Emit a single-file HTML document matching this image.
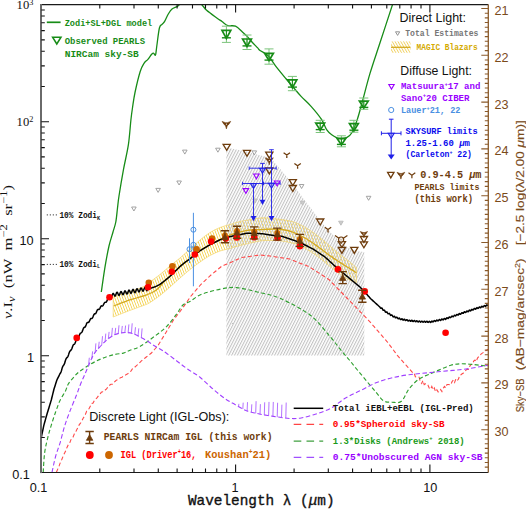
<!DOCTYPE html>
<html><head><meta charset="utf-8"><style>
html,body{margin:0;padding:0;background:#fff;}
svg{display:block;}
</style></head><body>
<svg width="526" height="509" viewBox="0 0 526 509">
<defs>
<clipPath id="frame"><rect x="41.30" y="4.60" width="447.00" height="467.90"/></clipPath>
<pattern id="ghatch" patternUnits="userSpaceOnUse" width="2.55" height="10" patternTransform="rotate(27)"><rect x="0" y="0" width="1.05" height="10" fill="#c2c2c2"/></pattern>
<pattern id="yhatch" patternUnits="userSpaceOnUse" width="2.45" height="10" patternTransform="rotate(-21)"><rect x="0" y="0" width="0.85" height="10" fill="#f4d24e"/></pattern>
<pattern id="yhatch2" patternUnits="userSpaceOnUse" width="2.45" height="10" patternTransform="rotate(-30)"><rect x="0" y="0" width="0.9" height="10" fill="#f0d060"/></pattern>
</defs>
<rect width="526" height="509" fill="#fff"/>
<path d="M113.20,297.00 C115.50,296.22 123.12,293.57 127.00,292.30 C130.88,291.03 133.33,290.53 136.50,289.40 C139.67,288.27 143.75,286.73 146.00,285.50 C148.25,284.27 147.67,283.83 150.00,282.00 C152.33,280.17 156.67,277.17 160.00,274.50 C163.33,271.83 166.67,268.75 170.00,266.00 C173.33,263.25 176.67,260.83 180.00,258.00 C183.33,255.17 186.67,252.00 190.00,249.00 C193.33,246.00 196.67,242.75 200.00,240.00 C203.33,237.25 206.67,234.58 210.00,232.50 C213.33,230.42 216.67,228.83 220.00,227.50 C223.33,226.17 226.67,225.50 230.00,224.50 C233.33,223.50 235.83,222.45 240.00,221.50 C244.17,220.55 250.83,219.42 255.00,218.80 C259.17,218.18 260.53,217.67 265.00,217.80 C269.47,217.93 277.03,218.90 281.80,219.60 C286.57,220.30 289.67,220.68 293.60,222.00 C297.53,223.32 301.47,225.27 305.40,227.50 C309.33,229.73 313.28,232.45 317.20,235.40 C321.12,238.35 324.98,241.93 328.90,245.20 C332.82,248.47 337.42,252.38 340.70,255.00 C343.98,257.62 345.98,258.77 348.60,260.90 C351.22,263.03 355.10,266.65 356.40,267.80 L356.40,282.50 C355.10,282.02 351.22,280.90 348.60,279.60 C345.98,278.30 343.98,277.05 340.70,274.70 C337.42,272.35 332.82,268.62 328.90,265.50 C324.98,262.38 321.12,258.83 317.20,256.00 C313.28,253.17 308.27,250.33 305.40,248.50 C302.53,246.67 301.97,245.83 300.00,245.00 C298.03,244.17 296.63,244.17 293.60,243.50 C290.57,242.83 286.57,241.50 281.80,241.00 C277.03,240.50 269.47,240.33 265.00,240.50 C260.53,240.67 259.17,241.17 255.00,242.00 C250.83,242.83 244.17,244.42 240.00,245.50 C235.83,246.58 233.33,247.58 230.00,248.50 C226.67,249.42 223.33,249.83 220.00,251.00 C216.67,252.17 213.33,253.67 210.00,255.50 C206.67,257.33 203.33,259.67 200.00,262.00 C196.67,264.33 193.33,266.83 190.00,269.50 C186.67,272.17 183.33,275.08 180.00,278.00 C176.67,280.92 173.33,284.08 170.00,287.00 C166.67,289.92 163.33,292.92 160.00,295.50 C156.67,298.08 152.33,301.00 150.00,302.50 C147.67,304.00 148.25,303.58 146.00,304.50 C143.75,305.42 139.67,306.83 136.50,308.00 C133.33,309.17 130.88,310.00 127.00,311.50 C123.12,313.00 115.50,316.08 113.20,317.00 Z" fill="url(#yhatch)" stroke="none"/>
<path d="M226.40,147.50 L246.00,151.50 L256.70,154.50 L265.00,156.50 L272.10,159.50 L276.80,165.00 L282.70,172.10 L288.60,179.20 L294.50,186.30 L300.40,194.50 L306.30,202.50 L310.00,207.00 L317.00,216.50 L324.20,225.50 L331.20,233.00 L338.30,240.00 L345.40,246.00 L354.80,251.00 L364.30,252.00 L364.3,355.5 L226.4,355.5 Z" fill="url(#ghatch)" stroke="none"/>
<path d="M113.20,297.00 C115.50,296.22 123.12,293.57 127.00,292.30 C130.88,291.03 133.33,290.53 136.50,289.40 C139.67,288.27 143.75,286.73 146.00,285.50 C148.25,284.27 147.67,283.83 150.00,282.00 C152.33,280.17 156.67,277.17 160.00,274.50 C163.33,271.83 166.67,268.75 170.00,266.00 C173.33,263.25 176.67,260.83 180.00,258.00 C183.33,255.17 186.67,252.00 190.00,249.00 C193.33,246.00 196.67,242.75 200.00,240.00 C203.33,237.25 206.67,234.58 210.00,232.50 C213.33,230.42 216.67,228.83 220.00,227.50 C223.33,226.17 226.67,225.50 230.00,224.50 C233.33,223.50 235.83,222.45 240.00,221.50 C244.17,220.55 250.83,219.42 255.00,218.80 C259.17,218.18 260.53,217.67 265.00,217.80 C269.47,217.93 277.03,218.90 281.80,219.60 C286.57,220.30 289.67,220.68 293.60,222.00 C297.53,223.32 301.47,225.27 305.40,227.50 C309.33,229.73 313.28,232.45 317.20,235.40 C321.12,238.35 324.98,241.93 328.90,245.20 C332.82,248.47 337.42,252.38 340.70,255.00 C343.98,257.62 345.98,258.77 348.60,260.90 C351.22,263.03 355.10,266.65 356.40,267.80 L356.40,282.50 C355.10,282.02 351.22,280.90 348.60,279.60 C345.98,278.30 343.98,277.05 340.70,274.70 C337.42,272.35 332.82,268.62 328.90,265.50 C324.98,262.38 321.12,258.83 317.20,256.00 C313.28,253.17 308.27,250.33 305.40,248.50 C302.53,246.67 301.97,245.83 300.00,245.00 C298.03,244.17 296.63,244.17 293.60,243.50 C290.57,242.83 286.57,241.50 281.80,241.00 C277.03,240.50 269.47,240.33 265.00,240.50 C260.53,240.67 259.17,241.17 255.00,242.00 C250.83,242.83 244.17,244.42 240.00,245.50 C235.83,246.58 233.33,247.58 230.00,248.50 C226.67,249.42 223.33,249.83 220.00,251.00 C216.67,252.17 213.33,253.67 210.00,255.50 C206.67,257.33 203.33,259.67 200.00,262.00 C196.67,264.33 193.33,266.83 190.00,269.50 C186.67,272.17 183.33,275.08 180.00,278.00 C176.67,280.92 173.33,284.08 170.00,287.00 C166.67,289.92 163.33,292.92 160.00,295.50 C156.67,298.08 152.33,301.00 150.00,302.50 C147.67,304.00 148.25,303.58 146.00,304.50 C143.75,305.42 139.67,306.83 136.50,308.00 C133.33,309.17 130.88,310.00 127.00,311.50 C123.12,313.00 115.50,316.08 113.20,317.00 Z" fill="none" stroke="#f3d56a" stroke-width="0.7"/>
<path d="M113.50,306.00 C115.75,305.13 123.17,302.13 127.00,300.80 C130.83,299.47 133.33,298.95 136.50,298.00 C139.67,297.05 143.30,296.05 146.00,295.10 C148.70,294.15 150.70,293.40 152.70,292.30 C154.70,291.20 155.95,290.47 158.00,288.50 C160.05,286.53 163.00,282.53 165.00,280.50 C167.00,278.47 167.50,278.63 170.00,276.30 C172.50,273.97 176.67,269.42 180.00,266.50 C183.33,263.58 186.67,261.43 190.00,258.80 C193.33,256.17 196.67,253.05 200.00,250.70 C203.33,248.35 206.73,246.57 210.00,244.70 C213.27,242.83 216.27,241.12 219.60,239.50 C222.93,237.88 226.60,236.25 230.00,235.00 C233.40,233.75 236.67,232.83 240.00,232.00 C243.33,231.17 245.83,230.45 250.00,230.00 C254.17,229.55 259.70,229.38 265.00,229.30 C270.30,229.22 277.03,228.98 281.80,229.50 C286.57,230.02 289.67,230.93 293.60,232.40 C297.53,233.87 301.47,236.00 305.40,238.30 C309.33,240.60 313.28,243.42 317.20,246.20 C321.12,248.98 324.98,252.22 328.90,255.00 C332.82,257.78 337.42,260.77 340.70,262.90 C343.98,265.03 345.98,266.17 348.60,267.80 C351.22,269.43 355.10,271.88 356.40,272.70" fill="none" stroke="#d4aa20" stroke-width="1.3"/>
<g clip-path="url(#frame)">
<path d="M56.40,472.30 L57.75,469.10 L59.10,465.90 L60.45,462.28 L61.80,459.57 L63.15,456.09 L64.50,453.27 L65.73,450.83 L66.97,447.47 L68.20,444.92 L69.43,443.77 L70.67,440.38 L71.90,437.87 L73.13,436.89 L74.37,433.85 L75.60,432.24 L76.83,429.46 L78.07,427.52 L79.30,424.54 L80.53,423.10 L81.77,421.26 L83.00,418.49 L84.23,416.62 L85.47,414.29 L86.70,411.10 L87.98,410.33 L89.27,408.18 L90.55,405.83 L91.83,403.52 L93.12,402.97 L94.40,400.46 L95.78,399.13 L97.15,397.66 L98.53,395.67 L99.90,394.27 L101.28,392.33 L102.66,391.88 L104.04,390.21 L105.42,389.90 L106.80,388.71 L108.17,386.32 L109.53,385.25 L110.90,384.25 L112.27,384.31 L113.63,382.33 L115.00,381.50 L116.38,380.14 L117.76,379.63 L119.14,378.60 L120.52,377.70 L121.90,377.24 L123.25,376.32 L124.60,375.91 L125.95,374.64 L127.30,374.12 L128.65,373.09 L130.00,372.39 L131.43,370.37 L132.85,368.06 L134.27,367.68 L135.70,366.34 L137.06,365.13 L138.42,363.47 L139.78,362.58 L141.14,361.12 L142.50,360.00 L143.77,359.00 L145.04,358.00 L146.31,357.00 L147.59,356.00 L148.86,355.00 L150.13,354.00 L151.40,353.00 L152.72,351.50 L154.04,350.00 L155.36,348.50 L156.68,347.00 L158.00,345.50 L159.20,343.54 L160.40,341.58 L161.60,339.62 L162.80,337.66 L164.00,335.70 L165.36,333.46 L166.71,331.21 L168.07,328.97 L169.43,326.73 L170.79,324.49 L172.14,322.24 L173.50,320.00 L174.71,318.41 L175.93,316.82 L177.14,315.24 L178.35,313.65 L179.56,312.06 L180.77,310.48 L181.99,308.89 L183.20,307.30 L184.50,305.42 L185.80,303.53 L187.10,301.65 L188.40,299.77 L189.70,297.88 L191.00,296.00 L192.25,294.54 L193.50,293.07 L194.75,291.61 L196.00,290.15 L197.25,288.69 L198.50,287.23 L199.75,285.76 L201.00,284.30 L202.25,283.14 L203.50,281.98 L204.75,280.81 L206.00,279.65 L207.25,278.49 L208.50,277.32 L209.75,276.16 L211.00,275.00 L212.31,273.93 L213.62,272.85 L214.94,271.77 L216.25,270.70 L217.56,269.62 L218.88,268.55 L220.19,267.47 L221.50,266.40 L222.71,265.88 L223.91,265.35 L225.12,264.83 L226.32,264.31 L227.53,263.78 L228.74,263.26 L229.94,262.74 L231.15,262.21 L232.35,261.69 L233.56,261.16 L234.76,260.64 L235.97,260.12 L237.18,259.59 L238.38,259.07 L239.59,258.55 L240.79,258.02 L242.00,257.50 L243.27,257.32 L244.54,257.14 L245.81,256.96 L247.09,256.79 L248.36,256.61 L249.63,256.43 L250.90,256.25 L252.17,256.07 L253.44,255.89 L254.71,255.71 L255.99,255.54 L257.26,255.36 L258.53,255.18 L259.80,255.00 L261.07,255.12 L262.35,255.25 L263.62,255.38 L264.90,255.50 L266.18,255.62 L267.45,255.75 L268.73,255.88 L270.00,256.00 L271.23,256.19 L272.45,256.38 L273.68,256.56 L274.90,256.75 L276.12,256.94 L277.35,257.12 L278.57,257.31 L279.80,257.50 L281.03,257.69 L282.25,257.88 L283.48,258.06 L284.70,258.25 L285.93,258.44 L287.15,258.62 L288.38,258.81 L289.60,259.00 L290.83,259.49 L292.06,259.98 L293.29,260.46 L294.53,260.95 L295.76,261.44 L296.99,261.93 L298.22,262.41 L299.45,262.90 L300.68,263.39 L301.91,263.88 L303.14,264.36 L304.38,264.85 L305.61,265.34 L306.84,265.82 L308.07,266.31 L309.30,266.80 L310.53,267.59 L311.75,268.39 L312.98,269.18 L314.20,269.98 L315.43,270.77 L316.65,271.56 L317.88,272.36 L319.10,273.15 L320.32,273.94 L321.55,274.74 L322.77,275.53 L324.00,276.32 L325.22,277.12 L326.45,277.91 L327.67,278.71 L328.90,279.50 L330.12,280.75 L331.34,282.00 L332.56,283.25 L333.77,284.50 L334.99,285.75 L336.21,287.00 L337.43,288.25 L338.65,289.50 L339.87,290.75 L341.09,292.00 L342.31,293.25 L343.52,294.50 L344.74,295.75 L345.96,297.00 L347.18,298.25 L348.40,299.50 L349.64,300.78 L350.88,302.06 L352.12,303.35 L353.36,304.63 L354.61,305.91 L355.85,307.19 L357.09,308.48 L358.33,309.76 L359.57,311.04 L360.81,312.32 L362.05,313.61 L363.29,314.89 L364.54,316.17 L365.78,317.45 L367.02,318.74 L368.26,320.02 L369.50,321.30 L370.72,322.71 L371.94,324.13 L373.16,325.54 L374.38,326.95 L375.60,328.37 L376.82,329.78 L378.04,331.19 L379.26,332.61 L380.48,334.02 L381.70,335.43 L382.92,336.85 L384.14,338.26 L385.36,339.67 L386.58,341.09 L387.80,342.50 L389.03,344.15 L390.25,345.80 L391.48,347.45 L392.70,349.10 L393.93,350.75 L395.15,352.40 L396.38,354.05 L397.60,355.70 L398.87,357.12 L400.13,358.53 L401.40,359.95 L402.67,361.37 L403.93,362.78 L405.20,364.20 L406.47,365.63 L407.73,367.07 L409.00,368.50 L410.27,369.93 L411.53,371.37 L412.80,372.80 L414.07,372.80 L415.33,376.79 L416.60,376.92 L417.87,376.92 L419.13,377.21 L420.40,381.96 L421.67,383.51 L422.93,380.49 L424.20,384.57 L425.47,383.81 L426.73,383.61 L428.00,385.19 L429.27,388.07 L430.53,389.31 L431.80,386.44 L433.07,389.74 L434.33,388.01 L435.60,391.76 L436.87,389.76 L438.13,391.88 L439.40,392.01 L440.67,389.62 L441.93,391.49 L443.20,388.16 L444.47,386.34 L445.73,387.84 L447.00,384.54 L448.27,384.47 L449.53,384.59 L450.80,384.69 L452.07,381.57 L453.33,379.95 L454.60,382.47 L455.87,378.91 L457.13,380.63 L458.40,379.25 L459.67,375.70 L460.93,374.79 L462.20,373.79 L463.47,373.07 L464.73,371.59 L466.00,370.16 L467.28,369.16 L468.57,369.31 L469.85,366.13 L471.13,364.53 L472.42,364.54 L473.70,361.15 L474.97,360.01 L476.23,361.57 L477.50,358.14 L478.77,356.63 L480.03,355.22 L481.30,353.80 L482.73,352.85 L484.15,351.90 L485.57,350.95 L487.00,350.00 L488.33,349.17 L489.67,348.33 L491.00,347.50" fill="none" stroke="#ff4a4a" stroke-width="1.1" stroke-dasharray="4,2.5"/>
<path d="M43.20,472.30 C43.43,469.10 43.87,458.77 44.60,453.10 C45.33,447.43 46.48,442.97 47.60,438.30 C48.72,433.63 49.95,429.52 51.30,425.10 C52.65,420.68 54.25,415.90 55.70,411.80 C57.15,407.70 58.37,403.98 60.00,400.50 C61.63,397.02 64.12,393.65 65.50,390.90 C66.88,388.15 66.92,386.30 68.30,384.00 C69.68,381.70 71.97,379.17 73.80,377.10 C75.63,375.03 77.02,373.43 79.30,371.60 C81.58,369.77 84.75,367.82 87.50,366.10 C90.25,364.38 92.82,362.78 95.80,361.30 C98.78,359.82 102.20,358.35 105.40,357.20 C108.60,356.05 112.02,355.08 115.00,354.40 C117.98,353.72 120.80,353.78 123.30,353.10 C125.80,352.42 127.23,351.38 130.00,350.30 C132.77,349.22 136.03,348.77 139.90,346.60 C143.77,344.43 148.77,340.63 153.20,337.30 C157.63,333.97 162.52,330.60 166.50,326.60 C170.48,322.60 174.32,316.95 177.10,313.30 C179.88,309.65 180.98,306.70 183.20,304.70 C185.42,302.70 187.43,303.00 190.40,301.30 C193.37,299.60 195.82,296.57 201.00,294.50 C206.18,292.43 215.53,290.05 221.50,288.90 C227.47,287.75 230.83,287.08 236.80,287.60 C242.77,288.12 250.10,290.22 257.30,292.00 C264.50,293.78 271.22,294.47 280.00,298.30 C288.78,302.13 301.67,308.63 310.00,315.00 C318.33,321.37 324.63,330.38 330.00,336.50 C335.37,342.62 338.97,347.78 342.20,351.70 C345.43,355.62 346.93,357.03 349.40,360.00 C351.87,362.97 354.15,366.02 357.00,369.50 C359.85,372.98 363.33,377.10 366.50,380.90 C369.67,384.70 373.13,388.97 376.00,392.30 C378.87,395.63 381.05,399.25 383.70,400.90 C386.35,402.55 388.95,402.13 391.90,402.20 C394.85,402.27 398.55,403.52 401.40,401.30 C404.25,399.08 406.15,392.55 409.00,388.90 C411.85,385.25 415.33,381.77 418.50,379.40 C421.67,377.03 424.52,376.28 428.00,374.70 C431.48,373.12 435.60,371.48 439.40,369.90 C443.20,368.32 447.32,366.22 450.80,365.20 C454.28,364.18 457.13,363.97 460.30,363.80 C463.47,363.63 466.62,363.97 469.80,364.20 C472.98,364.43 475.87,364.82 479.40,365.20 C482.93,365.58 489.07,366.28 491.00,366.50" fill="none" stroke="#30a030" stroke-width="1.15" stroke-dasharray="4,2.5"/>
<path d="M52.00,472.30 C52.62,469.58 54.35,460.92 55.70,456.00 C57.05,451.08 58.63,447.72 60.10,442.80 C61.57,437.88 62.90,431.67 64.50,426.50 C66.10,421.33 67.70,417.05 69.70,411.80 C71.70,406.55 74.68,399.63 76.50,395.00 C78.32,390.37 79.22,387.43 80.60,384.00 C81.98,380.57 83.42,377.60 84.80,374.40 C86.18,371.20 87.37,368.20 88.90,364.80 C90.43,361.40 92.03,357.13 94.00,354.00 C95.97,350.87 98.48,348.42 100.70,346.00 C102.92,343.58 105.08,341.33 107.30,339.50 C109.52,337.67 111.78,336.08 114.00,335.00 C116.22,333.92 118.60,333.42 120.60,333.00 C122.60,332.58 124.00,332.42 126.00,332.50 C128.00,332.58 130.38,332.83 132.60,333.50 C134.82,334.17 136.85,335.25 139.30,336.50 C141.75,337.75 144.87,339.50 147.30,341.00 C149.73,342.50 151.78,344.17 153.90,345.50 C156.02,346.83 157.90,347.72 160.00,349.00 C162.10,350.28 163.65,351.17 166.50,353.20 C169.35,355.23 173.55,358.53 177.10,361.20 C180.65,363.87 183.98,366.52 187.80,369.20 C191.62,371.88 195.75,373.95 200.00,377.30 C204.25,380.65 209.13,385.75 213.30,389.30 C217.47,392.85 221.38,396.07 225.00,398.60 C228.62,401.13 231.43,402.48 235.00,404.50 C238.57,406.52 242.73,409.20 246.40,410.70 C250.07,412.20 253.43,412.70 257.00,413.50 C260.57,414.30 263.97,414.87 267.80,415.50 C271.63,416.13 276.30,416.80 280.00,417.30 C283.70,417.80 286.48,418.38 290.00,418.50 C293.52,418.62 296.90,418.72 301.10,418.00 C305.30,417.28 310.32,415.78 315.20,414.20 C320.08,412.62 325.33,411.20 330.40,408.50 C335.47,405.80 340.53,401.02 345.60,398.00 C350.67,394.98 355.73,392.93 360.80,390.40 C365.87,387.87 370.92,384.87 376.00,382.80 C381.08,380.73 385.80,379.35 391.30,378.00 C396.80,376.65 402.88,375.57 409.00,374.70 C415.12,373.83 421.67,373.43 428.00,372.80 C434.33,372.17 440.67,371.53 447.00,370.90 C453.33,370.27 458.67,370.02 466.00,369.00 C473.33,367.98 486.83,365.50 491.00,364.80" fill="none" stroke="#a040ff" stroke-width="1.1" stroke-dasharray="4.5,2.5"/>
<path d="M88.50,366.04 l0.8,-8.30 M91.80,358.96 l0.8,-7.60 M95.10,352.99 l0.8,-9.60 M98.40,349.05 l0.8,-7.29 M101.70,345.32 l0.8,-9.14 M105.00,342.07 l0.8,-8.46 M108.30,339.13 l0.8,-7.23 M111.60,336.91 l0.8,-9.03 M114.90,335.03 l0.8,-7.15 M118.20,334.03 l0.8,-8.73 M121.50,333.22 l0.8,-7.28 M124.80,332.91 l0.8,-7.36 M128.10,333.12 l0.8,-8.70 M131.40,333.62 l0.8,-10.31 M134.70,334.74 l0.8,-7.50 M138.00,336.22 l0.8,-7.89 M141.30,337.93 l0.8,-9.51 M238.50,406.70 L238.90,403.83 M242.80,409.04 L243.20,402.66 M247.10,411.18 L247.50,402.16 M251.40,412.32 L251.80,404.32 M255.70,413.46 L256.10,401.19 M260.00,414.36 L260.40,404.16 M264.30,415.15 L264.70,402.30 M268.60,415.92 L269.00,401.92 M272.90,416.55 L273.30,401.96 M277.20,417.19 L277.60,402.76 M281.50,417.78 L281.90,404.66 M285.80,418.30 L286.20,402.57" fill="none" stroke="#a658ff" stroke-width="0.85"/>
<path d="M101.30,292.00 C101.93,287.73 103.82,274.07 105.10,266.40 C106.38,258.73 107.68,251.73 109.00,246.00 C110.32,240.27 111.87,236.00 113.00,232.00 C114.13,228.00 115.05,226.00 115.80,222.00 C116.55,218.00 116.97,212.33 117.50,208.00 C118.03,203.67 118.00,202.43 119.00,196.00 C120.00,189.57 121.93,177.95 123.50,169.40 C125.07,160.85 127.17,152.93 128.40,144.70 C129.63,136.47 130.20,126.28 130.90,120.00 C131.60,113.72 131.90,111.67 132.60,107.00 C133.30,102.33 133.83,97.92 135.10,92.00 C136.37,86.08 138.72,76.28 140.20,71.50 C141.68,66.72 142.72,65.33 144.00,63.30 C145.28,61.27 146.62,60.82 147.90,59.30 C149.18,57.78 150.77,55.23 151.70,54.20 C152.63,53.17 152.87,52.97 153.50,53.10 C154.13,53.23 154.95,56.18 155.50,55.00 C156.05,53.82 156.15,50.50 156.80,46.00 C157.45,41.50 158.53,31.62 159.40,28.00 C160.27,24.38 161.15,25.35 162.00,24.30 C162.85,23.25 163.45,23.42 164.50,21.70 C165.55,19.98 167.05,16.12 168.30,14.00 C169.55,11.88 170.50,10.27 172.00,9.00 C173.50,7.73 175.80,7.32 177.30,6.40 C178.80,5.48 178.88,4.57 181.00,3.50 C183.12,2.43 186.80,0.00 190.00,0.00 C193.20,0.00 197.43,1.80 200.20,3.50 C202.97,5.20 203.83,7.80 206.60,10.20 C209.37,12.60 214.23,16.02 216.80,17.90 C219.37,19.78 220.17,20.23 222.00,21.50 C223.83,22.77 225.55,24.72 227.80,25.50 C230.05,26.28 233.07,25.12 235.50,26.20 C237.93,27.28 240.48,30.32 242.40,32.00 C244.32,33.68 245.40,34.63 247.00,36.30 C248.60,37.97 250.22,40.07 252.00,42.00 C253.78,43.93 256.37,46.48 257.70,47.90 C259.03,49.32 258.30,49.23 260.00,50.50 C261.70,51.77 265.32,52.95 267.90,55.50 C270.48,58.05 272.52,61.97 275.50,65.80 C278.48,69.63 282.82,74.88 285.80,78.50 C288.78,82.12 290.85,84.52 293.40,87.50 C295.95,90.48 298.12,93.22 301.10,96.40 C304.08,99.58 307.90,102.77 311.30,106.60 C314.70,110.43 318.95,115.57 321.50,119.40 C324.05,123.23 324.90,127.05 326.60,129.60 C328.30,132.15 329.57,133.20 331.70,134.70 C333.83,136.20 336.85,138.17 339.40,138.60 C341.95,139.03 344.87,138.37 347.00,137.30 C349.13,136.23 350.48,135.18 352.20,132.20 C353.92,129.22 355.60,124.52 357.30,119.40 C359.00,114.28 360.28,109.17 362.40,101.50 C364.52,93.83 367.07,83.18 370.00,73.40 C372.93,63.62 376.22,54.37 380.00,42.80 C383.78,31.23 390.37,11.13 392.70,4.00 C395.03,-3.13 393.78,0.67 394.00,0.00" fill="none" stroke="#178c17" stroke-width="1.3"/>
<path d="M40.50,442.80 L41.10,439.10 L41.70,435.40 L42.25,432.82 L42.80,430.25 L43.35,427.68 L43.90,425.10 L44.48,423.02 L45.06,420.94 L45.64,418.86 L46.22,416.78 L46.80,414.70 L47.30,413.07 L47.80,411.43 L48.30,409.80 L48.80,408.17 L49.30,406.53 L49.80,404.90 L50.30,403.27 L50.80,401.63 L51.30,400.00 L51.84,397.80 L52.38,395.60 L52.92,393.40 L53.46,391.20 L54.00,389.00 L54.58,387.20 L55.16,385.40 L55.74,383.60 L56.32,381.80 L56.90,380.00 L57.42,378.95 L57.93,377.90 L58.45,376.85 L58.97,375.80 L59.48,374.75 L60.00,373.70 L60.50,373.06 L61.00,372.00 L61.50,370.43 L62.00,368.63 L62.50,367.06 L63.00,366.01 L63.50,365.36 L64.00,364.72 L64.50,363.66 L65.00,362.09 L65.50,360.30 L66.00,358.92 L66.50,358.05 L67.00,357.60 L67.50,357.15 L68.00,356.28 L68.50,354.90 L69.00,353.30 L69.50,351.92 L70.00,351.05 L70.50,350.60 L71.00,350.15 L71.50,349.41 L72.00,348.16 L72.50,346.68 L73.00,345.43 L73.50,344.69 L74.00,344.36 L74.50,344.04 L75.00,343.30 L75.50,342.05 L76.00,340.57 L76.50,339.32 L77.00,338.66 L77.51,338.41 L78.02,338.16 L78.52,337.48 L79.03,336.28 L79.53,334.86 L80.03,333.71 L80.54,333.09 L81.05,332.86 L81.55,332.58 L82.05,331.86 L82.56,330.63 L83.06,329.22 L83.57,328.10 L84.07,327.52 L84.58,327.30 L85.08,327.01 L85.59,326.25 L86.09,324.99 L86.60,323.59 L87.13,322.70 L87.66,322.40 L88.19,322.43 L88.72,322.27 L89.25,321.55 L89.78,320.36 L90.31,319.21 L90.84,318.55 L91.37,318.44 L91.90,318.46 L92.44,317.96 L92.98,316.85 L93.52,315.45 L94.06,314.34 L94.60,313.84 L95.14,313.73 L95.68,313.48 L96.22,312.65 L96.76,311.33 L97.30,310.02 L97.83,309.42 L98.35,309.36 L98.88,309.46 L99.41,309.19 L99.93,308.34 L100.46,307.18 L100.99,306.23 L101.51,305.85 L102.04,305.91 L102.57,305.93 L103.09,305.45 L103.62,304.44 L104.15,303.30 L104.67,302.53 L105.20,302.34 L105.74,302.32 L106.29,302.05 L106.83,301.17 L107.37,299.86 L107.91,298.69 L108.46,298.09 L109.00,298.00 L109.50,298.20 L110.00,297.30 L110.50,298.22 L111.00,298.40 L111.50,297.52 L112.00,295.90 L112.50,294.28 L113.00,293.40 L113.50,293.58 L114.00,294.50 L114.50,295.69 L115.00,296.13 L115.50,295.51 L116.00,294.15 L116.50,292.79 L117.00,292.18 L117.50,292.62 L118.00,293.80 L118.50,294.99 L119.00,295.43 L119.50,294.82 L120.00,293.46 L120.50,292.10 L121.00,291.48 L121.50,291.92 L122.00,293.11 L122.50,294.29 L123.00,294.73 L123.50,294.12 L124.00,292.76 L124.50,291.40 L125.00,290.79 L125.50,291.23 L126.00,292.41 L126.50,293.60 L127.00,294.04 L127.50,293.42 L128.00,292.07 L128.50,290.71 L129.00,290.09 L129.50,290.53 L130.00,291.72 L130.50,292.90 L131.00,293.34 L131.50,292.73 L132.00,291.37 L132.50,290.01 L133.00,289.40 L133.50,289.84 L134.00,291.02 L134.50,292.21 L135.00,292.65 L135.50,292.03 L136.00,290.67 L136.50,289.31 L137.00,288.70 L137.50,289.13 L138.00,290.31 L138.50,291.49 L139.00,291.93 L139.50,291.31 L140.00,289.94 L140.50,288.58 L141.00,287.96 L141.50,288.39 L142.00,289.57 L142.50,290.75 L143.00,291.19 L143.50,290.57 L144.00,289.20 L144.50,287.87 L145.00,287.28 L145.50,287.75 L146.00,288.97 L146.50,290.18 L147.00,290.65 L147.50,288.79 L148.00,288.73 L148.50,288.68 L149.00,288.62 L149.50,288.56 L150.00,288.50 L150.50,288.33 L151.00,288.16 L151.50,287.99 L152.00,287.82 L152.50,287.65 L153.00,287.48 L153.50,287.31 L154.00,287.14 L154.50,286.97 L155.00,286.80 L155.50,286.55 L156.00,286.30 L156.50,286.05 L157.00,285.80 L157.50,285.55 L158.00,285.30 L158.50,285.05 L159.00,284.80 L159.50,284.55 L160.00,284.30 L160.50,283.92 L161.00,283.54 L161.50,283.16 L162.00,282.78 L162.50,282.40 L163.00,282.02 L163.50,281.64 L164.00,281.26 L164.50,280.88 L165.00,280.50 L165.50,280.08 L166.00,279.66 L166.50,279.24 L167.00,278.82 L167.50,278.40 L168.00,277.98 L168.50,277.56 L169.00,277.14 L169.50,276.72 L170.00,276.30 L170.50,275.82 L171.00,275.34 L171.50,274.86 L172.00,274.38 L172.50,273.90 L173.00,273.42 L173.50,272.94 L174.00,272.46 L174.50,271.98 L175.00,271.50 L175.50,271.00 L176.00,270.50 L176.50,270.00 L177.00,269.50 L177.50,269.00 L178.00,268.50 L178.50,268.00 L179.00,267.50 L179.50,267.00 L180.00,266.50 L180.50,266.08 L181.00,265.66 L181.50,265.24 L182.00,264.82 L182.50,264.40 L183.00,263.98 L183.50,263.56 L184.00,263.14 L184.50,262.72 L185.00,262.30 L185.50,261.95 L186.00,261.60 L186.50,261.25 L187.00,260.90 L187.50,260.55 L188.00,260.20 L188.50,259.85 L189.00,259.50 L189.50,259.15 L190.00,258.80 L190.50,258.37 L191.00,257.94 L191.50,257.51 L192.00,257.08 L192.50,256.65 L193.00,256.22 L193.50,255.79 L194.00,255.36 L194.50,254.93 L195.00,254.50 L195.50,254.12 L196.00,253.74 L196.50,253.36 L197.00,252.98 L197.50,252.60 L198.00,252.22 L198.50,251.84 L199.00,251.46 L199.50,251.08 L200.00,250.70 L200.50,250.40 L201.00,250.10 L201.50,249.80 L202.00,249.50 L202.50,249.20 L203.00,248.90 L203.50,248.60 L204.00,248.30 L204.50,248.00 L205.00,247.70 L205.50,247.40 L206.00,247.10 L206.50,246.80 L207.00,246.50 L207.50,246.20 L208.00,245.90 L208.50,245.60 L209.00,245.30 L209.50,245.00 L210.00,244.70 L210.51,244.45 L211.01,244.21 L211.52,243.96 L212.02,243.71 L212.53,243.46 L213.03,243.22 L213.54,242.97 L214.04,242.72 L214.55,242.47 L215.05,242.23 L215.56,241.98 L216.06,241.73 L216.57,241.48 L217.07,241.24 L217.58,240.99 L218.08,240.74 L218.59,240.49 L219.09,240.25 L219.60,240.00 L220.12,239.83 L220.64,239.66 L221.16,239.49 L221.68,239.32 L222.20,239.15 L222.72,238.98 L223.24,238.81 L223.76,238.64 L224.28,238.47 L224.80,238.30 L225.32,238.13 L225.84,237.96 L226.36,237.79 L226.88,237.62 L227.40,237.45 L227.92,237.28 L228.44,237.11 L228.96,236.94 L229.48,236.77 L230.00,236.60 L230.50,236.50 L231.01,236.40 L231.51,236.30 L232.01,236.20 L232.51,236.10 L233.02,236.00 L233.52,235.90 L234.02,235.80 L234.53,235.70 L235.03,235.60 L235.53,235.50 L236.04,235.40 L236.54,235.30 L237.04,235.20 L237.54,235.10 L238.05,235.00 L238.55,234.90 L239.05,234.80 L239.56,234.70 L240.06,234.60 L240.56,234.50 L241.06,234.40 L241.57,234.30 L242.07,234.20 L242.57,234.10 L243.08,234.00 L243.58,233.90 L244.08,233.80 L244.59,233.70 L245.09,233.60 L245.59,233.50 L246.09,233.40 L246.60,233.30 L247.10,233.20 L247.61,233.22 L248.12,233.23 L248.63,233.25 L249.14,233.27 L249.65,233.28 L250.16,233.30 L250.67,233.32 L251.18,233.33 L251.69,233.35 L252.20,233.37 L252.71,233.38 L253.22,233.40 L253.73,233.42 L254.24,233.43 L254.75,233.45 L255.26,233.47 L255.77,233.48 L256.28,233.50 L256.79,233.52 L257.30,233.53 L257.81,233.55 L258.32,233.57 L258.83,233.58 L259.34,233.60 L259.85,233.62 L260.36,233.63 L260.87,233.65 L261.38,233.67 L261.89,233.68 L262.40,233.70 L262.91,233.79 L263.41,233.87 L263.92,233.96 L264.43,234.05 L264.93,234.13 L265.44,234.22 L265.95,234.31 L266.45,234.39 L266.96,234.48 L267.47,234.57 L267.97,234.65 L268.48,234.74 L268.99,234.83 L269.49,234.91 L270.00,235.00 L270.51,235.06 L271.03,235.11 L271.54,235.17 L272.05,235.23 L272.57,235.28 L273.08,235.34 L273.59,235.40 L274.10,235.45 L274.62,235.51 L275.13,235.57 L275.64,235.62 L276.16,235.68 L276.67,235.73 L277.18,235.79 L277.70,235.85 L278.21,235.90 L278.72,235.96 L279.23,236.02 L279.75,236.07 L280.26,236.13 L280.77,236.19 L281.29,236.24 L281.80,236.30 L282.31,236.47 L282.81,236.64 L283.32,236.81 L283.82,236.97 L284.33,237.14 L284.83,237.31 L285.34,237.48 L285.85,237.65 L286.35,237.82 L286.86,237.99 L287.36,238.15 L287.87,238.32 L288.37,238.49 L288.88,238.66 L289.39,238.83 L289.89,239.00 L290.40,239.17 L290.90,239.33 L291.41,239.50 L291.91,239.67 L292.42,239.84 L292.93,240.01 L293.43,240.18 L293.94,240.35 L294.44,240.51 L294.95,240.68 L295.45,240.85 L295.96,241.02 L296.47,241.19 L296.97,241.36 L297.48,241.53 L297.98,241.69 L298.49,241.86 L298.99,242.03 L299.50,242.20 L300.01,242.46 L300.51,242.71 L301.02,242.97 L301.53,243.22 L302.04,243.48 L302.54,243.73 L303.05,243.99 L303.56,244.24 L304.07,244.50 L304.57,244.76 L305.08,245.01 L305.59,245.27 L306.10,245.52 L306.60,245.78 L307.11,246.03 L307.62,246.29 L308.13,246.54 L308.63,246.80 L309.14,247.06 L309.65,247.31 L310.16,247.57 L310.66,247.82 L311.17,248.08 L311.68,248.33 L312.19,248.59 L312.69,248.84 L313.20,249.10 L313.71,249.44 L314.23,249.79 L314.74,250.13 L315.25,250.47 L315.77,250.82 L316.28,251.16 L316.79,251.50 L317.30,251.85 L317.82,252.19 L318.33,252.53 L318.84,252.88 L319.36,253.22 L319.87,253.57 L320.38,253.91 L320.90,254.25 L321.41,254.60 L321.92,254.94 L322.43,255.28 L322.95,255.63 L323.46,255.97 L323.97,256.31 L324.49,256.66 L325.00,257.00 L325.51,257.47 L326.03,257.94 L326.54,258.41 L327.05,258.88 L327.57,259.35 L328.08,259.82 L328.59,260.29 L329.10,260.76 L329.62,261.23 L330.13,261.70 L330.64,262.17 L331.16,262.63 L331.67,263.10 L332.18,263.57 L332.70,264.04 L333.21,264.51 L333.72,264.98 L334.23,265.45 L334.75,265.92 L335.26,266.39 L335.77,266.86 L336.29,267.33 L336.80,267.80 L337.31,268.23 L337.83,268.65 L338.34,269.08 L338.85,269.50 L339.37,269.93 L339.88,270.36 L340.39,270.78 L340.90,271.21 L341.42,271.63 L341.93,272.06 L342.44,272.49 L342.96,272.91 L343.47,273.34 L343.98,273.77 L344.50,274.19 L345.01,274.62 L345.52,275.04 L346.03,275.47 L346.55,275.90 L347.06,276.32 L347.57,276.75 L348.09,277.17 L348.60,277.60 L349.11,278.03 L349.63,278.45 L350.14,278.88 L350.65,279.30 L351.17,279.73 L351.68,280.16 L352.19,280.58 L352.70,281.01 L353.22,281.43 L353.73,281.86 L354.24,282.29 L354.76,282.71 L355.27,283.14 L355.78,283.57 L356.30,283.99 L356.81,284.42 L357.32,284.84 L357.83,285.27 L358.35,285.70 L358.86,286.12 L359.37,286.55 L359.89,286.97 L360.40,287.40 L360.90,287.94 L361.40,288.47 L361.90,289.01 L362.40,289.55 L362.90,290.09 L363.40,290.62 L363.90,291.16 L364.40,291.70 L364.91,292.26 L365.42,292.82 L365.92,293.38 L366.43,293.95 L366.94,294.51 L367.45,295.07 L367.95,295.63 L368.46,296.19 L368.97,296.75 L369.48,297.32 L369.98,297.88 L370.49,298.44 L371.00,299.00 L371.51,299.47 L372.03,299.93 L372.54,300.40 L373.05,300.87 L373.57,301.33 L374.08,301.80 L374.59,302.27 L375.11,302.73 L375.62,303.20 L376.13,303.67 L376.65,304.13 L377.16,304.60 L377.67,305.07 L378.19,305.53 L378.70,306.00 L379.22,306.43 L379.74,306.86 L380.26,307.66 L380.79,308.27 L381.31,308.06 L381.83,307.98 L382.35,308.78 L382.87,309.91 L383.39,310.33 L383.91,310.04 L384.44,310.12 L384.96,311.08 L385.48,312.13 L386.00,312.35 L386.53,311.93 L387.05,312.09 L387.58,313.06 L388.11,313.85 L388.63,313.74 L389.16,313.37 L389.69,313.77 L390.21,314.81 L390.74,315.40 L391.27,315.11 L391.79,314.86 L392.32,315.50 L392.85,316.53 L393.37,316.87 L393.90,316.48 L394.41,316.28 L394.91,316.93 L395.42,317.76 L395.93,317.85 L396.44,317.32 L396.94,317.18 L397.45,317.87 L397.96,318.68 L398.46,318.70 L398.97,318.17 L399.48,318.08 L399.99,318.82 L400.49,319.59 L401.00,319.55 L401.51,318.93 L402.01,318.81 L402.52,319.49 L403.02,320.13 L403.53,319.95 L404.04,319.33 L404.54,319.27 L405.05,319.98 L405.56,320.58 L406.06,320.35 L406.57,319.73 L407.08,319.72 L407.58,320.46 L408.09,321.02 L408.59,320.74 L409.10,320.14 L409.62,320.16 L410.14,320.90 L410.66,321.34 L411.18,320.90 L411.70,320.30 L412.21,320.49 L412.73,321.27 L413.25,321.55 L413.77,321.00 L414.29,320.49 L414.81,320.85 L415.33,321.61 L415.85,321.73 L416.37,321.09 L416.89,320.71 L417.40,321.22 L417.92,321.93 L418.44,321.88 L418.96,321.20 L419.48,320.97 L420.00,321.60 L420.52,322.19 L421.04,321.93 L421.56,321.22 L422.08,321.14 L422.60,321.82 L423.12,322.29 L423.64,321.87 L424.16,321.21 L424.68,321.30 L425.20,322.04 L425.72,322.35 L426.24,321.80 L426.76,321.22 L427.28,321.49 L427.80,322.24 L428.32,322.37 L428.84,321.72 L429.36,321.27 L429.88,321.71 L430.40,322.41 L430.91,322.25 L431.41,321.45 L431.92,320.99 L432.43,321.38 L432.93,321.92 L433.44,321.70 L433.95,320.89 L434.45,320.48 L434.96,320.91 L435.47,321.42 L435.97,321.15 L436.48,320.33 L436.99,319.98 L437.49,320.44 L438.00,320.92 L438.51,320.59 L439.01,319.77 L439.52,319.48 L440.03,319.98 L440.53,320.42 L441.04,320.03 L441.55,319.22 L442.05,318.98 L442.56,319.51 L443.07,319.91 L443.57,319.47 L444.08,318.67 L444.59,318.49 L445.09,319.04 L445.60,319.40 L446.11,318.84 L446.61,317.98 L447.12,317.79 L447.63,318.29 L448.13,318.53 L448.64,317.92 L449.15,317.08 L449.65,316.95 L450.16,317.47 L450.67,317.66 L451.17,317.01 L451.68,316.19 L452.19,316.12 L452.69,316.65 L453.20,316.79 L453.71,316.09 L454.21,315.30 L454.72,315.29 L455.23,315.83 L455.73,315.91 L456.24,315.18 L456.75,314.42 L457.25,314.46 L457.76,315.00 L458.27,315.03 L458.77,314.26 L459.28,313.54 L459.79,313.64 L460.29,314.18 L460.80,314.14 L461.31,313.34 L461.81,312.67 L462.32,312.83 L462.83,313.36 L463.33,313.27 L463.84,312.45 L464.35,311.81 L464.85,312.02 L465.36,312.54 L465.87,312.39 L466.37,311.55 L466.88,310.96 L467.39,311.22 L467.89,311.72 L468.40,311.51 L468.91,310.65 L469.41,310.11 L469.92,310.42 L470.43,310.90 L470.93,310.63 L471.44,309.75 L471.95,309.27 L472.45,309.62 L472.96,310.07 L473.47,309.74 L473.97,308.86 L474.48,308.43 L474.99,308.82 L475.49,309.24 L476.00,308.85 L476.50,308.00 L477.00,307.64 L477.50,308.07 L478.00,308.50 L478.50,308.14 L479.00,307.29 L479.50,306.93 L480.00,307.36 L480.50,307.78 L481.00,307.42 L481.50,306.58 L482.00,306.22 L482.50,306.64 L483.00,307.07 L483.50,306.71 L484.00,305.86 L484.50,305.50 L485.00,305.93 L485.50,306.36 L486.00,306.00 L486.50,305.15 L487.00,304.79 L487.50,305.21 L488.00,305.64 L488.50,305.28 L489.00,304.43 L489.50,304.07 L490.00,304.50" fill="none" stroke="#000" stroke-width="1.5" stroke-linejoin="round"/>
</g>
<path d="M131.60,207.00 L136.20,207.00 L133.90,211.00 Z" fill="none" stroke="#999" stroke-width="0.9" stroke-linejoin="miter"/>
<path d="M155.80,188.40 L160.40,188.40 L158.10,192.40 Z" fill="none" stroke="#999" stroke-width="0.9" stroke-linejoin="miter"/>
<path d="M176.80,181.00 L181.40,181.00 L179.10,185.00 Z" fill="none" stroke="#999" stroke-width="0.9" stroke-linejoin="miter"/>
<path d="M182.50,150.10 L187.10,150.10 L184.80,154.10 Z" fill="none" stroke="#999" stroke-width="0.9" stroke-linejoin="miter"/>
<path d="M215.60,148.20 L220.20,148.20 L217.90,152.20 Z" fill="none" stroke="#999" stroke-width="0.9" stroke-linejoin="miter"/>
<path d="M252.00,150.90 L256.60,150.90 L254.30,154.90 Z" fill="none" stroke="#999" stroke-width="0.9" stroke-linejoin="miter"/>
<path d="M299.30,184.50 L303.90,184.50 L301.60,188.50 Z" fill="none" stroke="#999" stroke-width="0.9" stroke-linejoin="miter"/>
<path d="M366.30,196.30 L370.90,196.30 L368.60,200.30 Z" fill="none" stroke="#999" stroke-width="0.9" stroke-linejoin="miter"/>
<path d="M300.30,201.20 L304.90,201.20 L302.60,205.20 Z" fill="#ccc" stroke="#bbb" stroke-width="0.9" stroke-linejoin="miter"/>
<path d="M338.60,221.20 L343.20,221.20 L340.90,225.20 Z" fill="#ccc" stroke="#bbb" stroke-width="0.9" stroke-linejoin="miter"/>
<path d="M252.70,199.00 L257.30,199.00 L255.00,203.00 Z" fill="#ccc" stroke="#bbb" stroke-width="0.9" stroke-linejoin="miter"/>
<path d="M226.40,26.20 L226.40,42.40 M221.90,26.20 h9 M221.90,42.40 h9" stroke="#7cc47c" stroke-width="1" fill="none"/>
<path d="M221.90,37.80 h9" stroke="#178c17" stroke-width="1.4"/>
<path d="M222.00,30.30 L230.80,30.30 L226.40,38.40 Z" fill="none" stroke="#178c17" stroke-width="1.7" stroke-linejoin="miter"/>
<path d="M226.40,30.30 V38.40" stroke="#178c17" stroke-width="1"/>
<path d="M247.00,35.00 L247.00,49.50 M242.50,35.00 h9 M242.50,49.50 h9" stroke="#7cc47c" stroke-width="1" fill="none"/>
<path d="M242.50,45.90 h9" stroke="#178c17" stroke-width="1.4"/>
<path d="M242.60,39.00 L251.40,39.00 L247.00,46.50 Z" fill="none" stroke="#178c17" stroke-width="1.7" stroke-linejoin="miter"/>
<path d="M247.00,39.00 V46.50" stroke="#178c17" stroke-width="1"/>
<path d="M269.00,48.90 L269.00,64.20 M264.50,48.90 h9 M264.50,64.20 h9" stroke="#7cc47c" stroke-width="1" fill="none"/>
<path d="M264.50,60.10 h9" stroke="#178c17" stroke-width="1.4"/>
<path d="M264.60,53.30 L273.40,53.30 L269.00,60.70 Z" fill="none" stroke="#178c17" stroke-width="1.7" stroke-linejoin="miter"/>
<path d="M269.00,53.30 V60.70" stroke="#178c17" stroke-width="1"/>
<path d="M292.40,76.40 L292.40,90.70 M287.90,76.40 h9 M287.90,90.70 h9" stroke="#7cc47c" stroke-width="1" fill="none"/>
<path d="M287.90,87.10 h9" stroke="#178c17" stroke-width="1.4"/>
<path d="M288.00,79.90 L296.80,79.90 L292.40,87.70 Z" fill="none" stroke="#178c17" stroke-width="1.7" stroke-linejoin="miter"/>
<path d="M292.40,79.90 V87.70" stroke="#178c17" stroke-width="1"/>
<path d="M320.20,120.30 L320.20,132.50 M315.70,120.30 h9 M315.70,132.50 h9" stroke="#7cc47c" stroke-width="1" fill="none"/>
<path d="M315.70,129.60 h9" stroke="#178c17" stroke-width="1.4"/>
<path d="M315.80,123.20 L324.60,123.20 L320.20,130.20 Z" fill="none" stroke="#178c17" stroke-width="1.7" stroke-linejoin="miter"/>
<path d="M320.20,123.20 V130.20" stroke="#178c17" stroke-width="1"/>
<path d="M341.40,135.80 L341.40,146.80 M336.90,135.80 h9 M336.90,146.80 h9" stroke="#7cc47c" stroke-width="1" fill="none"/>
<path d="M336.90,144.40 h9" stroke="#178c17" stroke-width="1.4"/>
<path d="M337.00,138.30 L345.80,138.30 L341.40,145.00 Z" fill="none" stroke="#178c17" stroke-width="1.7" stroke-linejoin="miter"/>
<path d="M341.40,138.30 V145.00" stroke="#178c17" stroke-width="1"/>
<path d="M353.90,120.30 L353.90,132.20 M349.40,120.30 h9 M349.40,132.20 h9" stroke="#7cc47c" stroke-width="1" fill="none"/>
<path d="M349.40,130.20 h9" stroke="#178c17" stroke-width="1.4"/>
<path d="M349.50,123.70 L358.30,123.70 L353.90,130.80 Z" fill="none" stroke="#178c17" stroke-width="1.7" stroke-linejoin="miter"/>
<path d="M353.90,123.70 V130.80" stroke="#178c17" stroke-width="1"/>
<path d="M363.80,98.00 L363.80,109.30 M359.30,98.00 h9 M359.30,109.30 h9" stroke="#7cc47c" stroke-width="1" fill="none"/>
<path d="M359.30,107.40 h9" stroke="#178c17" stroke-width="1.4"/>
<path d="M359.40,101.20 L368.20,101.20 L363.80,108.00 Z" fill="none" stroke="#178c17" stroke-width="1.7" stroke-linejoin="miter"/>
<path d="M363.80,101.20 V108.00" stroke="#178c17" stroke-width="1"/>
<path d="M223.10,144.30 L230.30,144.30 L226.70,150.30 Z" fill="none" stroke="#6e3c0c" stroke-width="1.3" stroke-linejoin="miter"/>
<path d="M243.40,150.30 L250.60,150.30 L247.00,156.30 Z" fill="none" stroke="#6e3c0c" stroke-width="1.3" stroke-linejoin="miter"/>
<path d="M265.70,152.20 L272.90,152.20 L269.30,158.20 Z" fill="none" stroke="#6e3c0c" stroke-width="1.3" stroke-linejoin="miter"/>
<path d="M265.70,167.90 L272.90,167.90 L269.30,173.90 Z" fill="none" stroke="#6e3c0c" stroke-width="1.3" stroke-linejoin="miter"/>
<path d="M289.20,179.60 L296.40,179.60 L292.80,185.60 Z" fill="none" stroke="#6e3c0c" stroke-width="1.3" stroke-linejoin="miter"/>
<path d="M289.20,185.50 L296.40,185.50 L292.80,191.50 Z" fill="none" stroke="#6e3c0c" stroke-width="1.3" stroke-linejoin="miter"/>
<path d="M316.60,219.00 L323.80,219.00 L320.20,225.00 Z" fill="none" stroke="#6e3c0c" stroke-width="1.3" stroke-linejoin="miter"/>
<path d="M338.30,247.40 L345.50,247.40 L341.90,253.40 Z" fill="none" stroke="#6e3c0c" stroke-width="1.3" stroke-linejoin="miter"/>
<path d="M350.70,247.40 L357.90,247.40 L354.30,253.40 Z" fill="none" stroke="#6e3c0c" stroke-width="1.3" stroke-linejoin="miter"/>
<path d="M360.30,236.50 L367.50,236.50 L363.90,242.50 Z" fill="none" stroke="#6e3c0c" stroke-width="1.3" stroke-linejoin="miter"/>
<path d="M360.30,241.80 L367.50,241.80 L363.90,247.80 Z" fill="none" stroke="#6e3c0c" stroke-width="1.3" stroke-linejoin="miter"/>
<path d="M338.30,241.60 L345.50,241.60 L341.90,247.60 Z" fill="none" stroke="#6e3c0c" stroke-width="1.3" stroke-linejoin="miter"/>
<path d="M283.60,152.76 L286.80,155.00 L290.00,152.76 M286.80,155.00 L286.80,157.88" fill="none" stroke="#6e3c0c" stroke-width="1.3"/>
<path d="M294.40,163.56 L297.60,165.80 L300.80,163.56 M297.60,165.80 L297.60,168.68" fill="none" stroke="#6e3c0c" stroke-width="1.3"/>
<path d="M324.80,227.26 L328.00,229.50 L331.20,227.26 M328.00,229.50 L328.00,232.38" fill="none" stroke="#6e3c0c" stroke-width="1.3"/>
<path d="M335,235.6 L341.1,239.8 L347.4,235.6 M341.1,239.8 V244" stroke="#6e3c0c" stroke-width="1.2" fill="none"/>
<circle cx="341.1" cy="239.6" r="2.6" fill="#fff" fill-opacity="0.7" stroke="#6e3c0c" stroke-width="1.1"/>
<path d="M360.30,231.50 L363.00,232.58 L364.80,232.58 L367.50,231.50 L365.88,234.02 L364.62,235.10 L363.90,237.80 L363.18,235.10 L361.92,234.02 Z" fill="#6e3c0c" stroke="#6e3c0c" stroke-width="0.6" stroke-linejoin="round"/><circle cx="363.90" cy="233.84" r="0.55" fill="#fff"/>
<path d="M222.10,121.38 L225.33,122.66 L227.47,122.66 L230.70,121.38 L228.77,124.38 L227.26,125.67 L226.40,128.90 L225.54,125.67 L224.03,124.38 Z" fill="#6e3c0c" stroke="#6e3c0c" stroke-width="0.6" stroke-linejoin="round"/><circle cx="226.40" cy="124.17" r="0.55" fill="#fff"/>
<path d="M265.30,157.80 L268.30,159.00 L270.30,159.00 L273.30,157.80 L271.50,160.60 L270.10,161.80 L269.30,164.80 L268.50,161.80 L267.10,160.60 Z" fill="#6e3c0c" stroke="#6e3c0c" stroke-width="0.6" stroke-linejoin="round"/><circle cx="269.30" cy="160.40" r="0.55" fill="#fff"/>
<path d="M249.20,168.20 H276.20 M262.50,163.40 V201.30" stroke="#2020e8" stroke-width="0.9"/>
<path d="M249.20,169.90 v-3.4 M276.20,169.90 v-3.4" stroke="#2020e8" stroke-width="0.9"/>
<path d="M260.20,163.40 h4.6" stroke="#2020e8" stroke-width="0.9"/>
<path d="M259.50,168.20 L265.50,168.20 L262.50,173.20 Z" fill="#7a7af0" fill-opacity="0.5" stroke="#2020e8" stroke-width="1.1"/>
<path d="M259.60,199.80 L265.40,199.80 L262.50,205.10 Z" fill="#2020e8"/>
<path d="M242.60,183.50 H263.40 M253.50,183.50 V217.40" stroke="#2020e8" stroke-width="0.9"/>
<path d="M242.60,185.20 v-3.4 M263.40,185.20 v-3.4" stroke="#2020e8" stroke-width="0.9"/>
<path d="M250.50,183.50 L256.50,183.50 L253.50,188.50 Z" fill="#7a7af0" fill-opacity="0.5" stroke="#2020e8" stroke-width="1.1"/>
<path d="M250.60,215.90 L256.40,215.90 L253.50,221.20 Z" fill="#2020e8"/>
<path d="M263.40,183.30 H280.10 M271.50,149.70 V217.40" stroke="#2020e8" stroke-width="0.9"/>
<path d="M263.40,185.00 v-3.4 M280.10,185.00 v-3.4" stroke="#2020e8" stroke-width="0.9"/>
<path d="M269.20,149.70 h4.6" stroke="#2020e8" stroke-width="0.9"/>
<path d="M268.50,183.30 L274.50,183.30 L271.50,188.30 Z" fill="#7a7af0" fill-opacity="0.5" stroke="#2020e8" stroke-width="1.1"/>
<path d="M268.60,215.90 L274.40,215.90 L271.50,221.20 Z" fill="#2020e8"/>
<path d="M253.60,174.00 L259.20,174.00 L256.40,178.80 Z" fill="none" stroke="#9900ff" stroke-width="1.1" stroke-linejoin="miter"/>
<path d="M243.10,188.60 L248.70,188.60 L245.90,193.40 Z" fill="none" stroke="#9900ff" stroke-width="1.1" stroke-linejoin="miter"/>
<path d="M274.30,181.00 L279.90,181.00 L277.10,185.80 Z" fill="none" stroke="#9900ff" stroke-width="1.1" stroke-linejoin="miter"/>
<path d="M193.4,212.8 V286.3 M189.5,238.3 V263" stroke="#4a90e2" stroke-width="1"/>
<circle cx="193.40" cy="229.70" r="2.5" fill="none" stroke="#4a90e2" stroke-width="1"/>
<circle cx="193.40" cy="244.80" r="2.5" fill="none" stroke="#4a90e2" stroke-width="1"/>
<circle cx="189.50" cy="249.20" r="2.5" fill="none" stroke="#4a90e2" stroke-width="1"/>
<circle cx="148.80" cy="282.80" r="3.3" fill="#cc6600"/>
<circle cx="172.40" cy="266.30" r="3.3" fill="#cc6600"/>
<circle cx="196.60" cy="249.20" r="3.3" fill="#cc6600"/>
<circle cx="212.10" cy="238.60" r="3.3" fill="#cc6600"/>
<circle cx="76.70" cy="337.90" r="3.3" fill="#ff0000"/>
<circle cx="109.50" cy="297.30" r="3.3" fill="#ff0000"/>
<circle cx="148.00" cy="287.20" r="3.3" fill="#ff0000"/>
<circle cx="171.80" cy="271.80" r="3.3" fill="#ff0000"/>
<circle cx="194.80" cy="254.50" r="3.3" fill="#ff0000"/>
<circle cx="211.10" cy="241.60" r="3.3" fill="#ff0000"/>
<circle cx="225.80" cy="238.60" r="3.3" fill="#ff0000"/>
<circle cx="236.80" cy="237.50" r="3.3" fill="#ff0000"/>
<circle cx="254.20" cy="237.20" r="3.3" fill="#ff0000"/>
<circle cx="277.50" cy="237.70" r="3.3" fill="#ff0000"/>
<circle cx="299.90" cy="246.20" r="3.3" fill="#ff0000"/>
<circle cx="338.00" cy="269.40" r="3.3" fill="#ff0000"/>
<circle cx="364.70" cy="291.40" r="3.3" fill="#ff0000"/>
<circle cx="445.60" cy="332.80" r="3.3" fill="#ff0000"/>
<circle cx="224.90" cy="235.60" r="3.0" fill="#cc6600"/>
<circle cx="237.00" cy="231.10" r="3.0" fill="#cc6600"/>
<circle cx="254.20" cy="231.70" r="3.0" fill="#cc6600"/>
<circle cx="277.30" cy="232.90" r="3.0" fill="#cc6600"/>
<circle cx="299.80" cy="239.20" r="3.0" fill="#cc6600"/>
<path d="M220.70,230.80 h8.40 M220.70,242.80 h8.40 M224.90,230.80 V242.80" stroke="#6e3c0c" stroke-width="1.4"/><path d="M221.70,239.60 L228.10,239.60 L224.90,234.00 Z" fill="#6e3c0c" stroke="#6e3c0c" stroke-width="0.8"/>
<path d="M232.80,226.30 h8.40 M232.80,238.30 h8.40 M237.00,226.30 V238.30" stroke="#6e3c0c" stroke-width="1.4"/><path d="M233.80,235.10 L240.20,235.10 L237.00,229.50 Z" fill="#6e3c0c" stroke="#6e3c0c" stroke-width="0.8"/>
<path d="M250.00,226.90 h8.40 M250.00,238.90 h8.40 M254.20,226.90 V238.90" stroke="#6e3c0c" stroke-width="1.4"/><path d="M251.00,235.70 L257.40,235.70 L254.20,230.10 Z" fill="#6e3c0c" stroke="#6e3c0c" stroke-width="0.8"/>
<path d="M273.10,228.10 h8.40 M273.10,240.10 h8.40 M277.30,228.10 V240.10" stroke="#6e3c0c" stroke-width="1.4"/><path d="M274.10,236.90 L280.50,236.90 L277.30,231.30 Z" fill="#6e3c0c" stroke="#6e3c0c" stroke-width="0.8"/>
<path d="M295.60,234.40 h8.40 M295.60,246.40 h8.40 M299.80,234.40 V246.40" stroke="#6e3c0c" stroke-width="1.4"/><path d="M296.60,243.20 L303.00,243.20 L299.80,237.60 Z" fill="#6e3c0c" stroke="#6e3c0c" stroke-width="0.8"/>
<path d="M338.50,271.60 h8.40 M338.50,283.60 h8.40 M342.70,271.60 V283.60" stroke="#6e3c0c" stroke-width="1.4"/><path d="M339.50,280.40 L345.90,280.40 L342.70,274.80 Z" fill="#6e3c0c" stroke="#6e3c0c" stroke-width="0.8"/>
<path d="M358.10,290.30 h8.40 M358.10,302.30 h8.40 M362.30,290.30 V302.30" stroke="#6e3c0c" stroke-width="1.4"/><path d="M359.10,299.10 L365.50,299.10 L362.30,293.50 Z" fill="#6e3c0c" stroke="#6e3c0c" stroke-width="0.8"/>
<path d="M41.30,4.60 H488.30 M41.30,472.50 H488.30" stroke="#1a1a1a" stroke-width="1.2"/>
<rect x="40" y="4.00" width="2" height="469.10" fill="#6a6a6a"/>
<path d="M488.30,4.60 V472.50" stroke="#8a5a2a" stroke-width="1.3"/>
<path d="M99.79,472.50v-4 M99.79,4.60v4 M134.00,472.50v-4 M134.00,4.60v4 M158.28,472.50v-4 M158.28,4.60v4 M177.11,472.50v-4 M177.11,4.60v4 M192.49,472.50v-4 M192.49,4.60v4 M205.50,472.50v-4 M205.50,4.60v4 M216.77,472.50v-4 M216.77,4.60v4 M226.71,472.50v-4 M226.71,4.60v4 M235.60,472.50v-8 M235.60,4.60v8 M294.09,472.50v-4 M294.09,4.60v4 M328.30,472.50v-4 M328.30,4.60v4 M352.58,472.50v-4 M352.58,4.60v4 M371.41,472.50v-4 M371.41,4.60v4 M386.79,472.50v-4 M386.79,4.60v4 M399.80,472.50v-4 M399.80,4.60v4 M411.07,472.50v-4 M411.07,4.60v4 M421.01,472.50v-4 M421.01,4.60v4 M429.90,472.50v-8 M429.90,4.60v8 M41.30,437.48h3.5 M41.30,416.88h3.5 M41.30,402.26h3.5 M41.30,390.92h3.5 M41.30,381.66h3.5 M41.30,373.82h3.5 M41.30,367.04h3.5 M41.30,361.05h3.5 M41.30,355.70h7.7 M41.30,320.48h3.5 M41.30,299.88h3.5 M41.30,285.26h3.5 M41.30,273.92h3.5 M41.30,264.66h3.5 M41.30,256.82h3.5 M41.30,250.04h3.5 M41.30,244.05h3.5 M41.30,238.70h7.7 M41.30,203.48h3.5 M41.30,182.88h3.5 M41.30,168.26h3.5 M41.30,156.92h3.5 M41.30,147.66h3.5 M41.30,139.82h3.5 M41.30,133.04h3.5 M41.30,127.05h3.5 M41.30,121.70h7.7 M41.30,86.48h3.5 M41.30,65.88h3.5 M41.30,51.26h3.5 M41.30,39.92h3.5 M41.30,30.66h3.5 M41.30,22.82h3.5 M41.30,16.04h3.5 M41.30,10.05h3.5" stroke="#111" stroke-width="1.1" fill="none"/>
<path d="M488.30,8.50h-7.0 M488.30,13.18h-3.5 M488.30,17.86h-3.5 M488.30,22.54h-3.5 M488.30,27.22h-3.5 M488.30,31.90h-3.5 M488.30,36.58h-3.5 M488.30,41.26h-3.5 M488.30,45.94h-3.5 M488.30,50.62h-3.5 M488.30,55.30h-7.0 M488.30,59.98h-3.5 M488.30,64.66h-3.5 M488.30,69.34h-3.5 M488.30,74.02h-3.5 M488.30,78.70h-3.5 M488.30,83.38h-3.5 M488.30,88.06h-3.5 M488.30,92.74h-3.5 M488.30,97.42h-3.5 M488.30,102.10h-7.0 M488.30,106.78h-3.5 M488.30,111.46h-3.5 M488.30,116.14h-3.5 M488.30,120.82h-3.5 M488.30,125.50h-3.5 M488.30,130.18h-3.5 M488.30,134.86h-3.5 M488.30,139.54h-3.5 M488.30,144.22h-3.5 M488.30,148.90h-7.0 M488.30,153.58h-3.5 M488.30,158.26h-3.5 M488.30,162.94h-3.5 M488.30,167.62h-3.5 M488.30,172.30h-3.5 M488.30,176.98h-3.5 M488.30,181.66h-3.5 M488.30,186.34h-3.5 M488.30,191.02h-3.5 M488.30,195.70h-7.0 M488.30,200.38h-3.5 M488.30,205.06h-3.5 M488.30,209.74h-3.5 M488.30,214.42h-3.5 M488.30,219.10h-3.5 M488.30,223.78h-3.5 M488.30,228.46h-3.5 M488.30,233.14h-3.5 M488.30,237.82h-3.5 M488.30,242.50h-7.0 M488.30,247.18h-3.5 M488.30,251.86h-3.5 M488.30,256.54h-3.5 M488.30,261.22h-3.5 M488.30,265.90h-3.5 M488.30,270.58h-3.5 M488.30,275.26h-3.5 M488.30,279.94h-3.5 M488.30,284.62h-3.5 M488.30,289.30h-7.0 M488.30,293.98h-3.5 M488.30,298.66h-3.5 M488.30,303.34h-3.5 M488.30,308.02h-3.5 M488.30,312.70h-3.5 M488.30,317.38h-3.5 M488.30,322.06h-3.5 M488.30,326.74h-3.5 M488.30,331.42h-3.5 M488.30,336.10h-7.0 M488.30,340.78h-3.5 M488.30,345.46h-3.5 M488.30,350.14h-3.5 M488.30,354.82h-3.5 M488.30,359.50h-3.5 M488.30,364.18h-3.5 M488.30,368.86h-3.5 M488.30,373.54h-3.5 M488.30,378.22h-3.5 M488.30,382.90h-7.0 M488.30,387.58h-3.5 M488.30,392.26h-3.5 M488.30,396.94h-3.5 M488.30,401.62h-3.5 M488.30,406.30h-3.5 M488.30,410.98h-3.5 M488.30,415.66h-3.5 M488.30,420.34h-3.5 M488.30,425.02h-3.5 M488.30,429.70h-7.0 M488.30,434.38h-3.5 M488.30,439.06h-3.5 M488.30,443.74h-3.5 M488.30,448.42h-3.5 M488.30,453.10h-3.5 M488.30,457.78h-3.5 M488.30,462.46h-3.5 M488.30,467.14h-3.5" stroke="#8a5a2a" stroke-width="1.1" fill="none"/>
<g style='font-family:"Liberation Serif",serif;font-size:12.6px' fill="#111">
<text x="16.6" y="9.3">10<tspan dy="-4.6" font-size="8.2">3</tspan></text>
<text x="16.6" y="126.3">10<tspan dy="-4.6" font-size="8.2">2</tspan></text>
</g>
<g style='font-family:"Liberation Sans",sans-serif;font-size:12.7px' fill="#111">
<text x="33.6" y="244.9" text-anchor="end">10</text>
<text x="34.0" y="362" text-anchor="end">1</text>
<text x="29.8" y="478.8" text-anchor="end">0.1</text>
<text x="38.6" y="491.7" text-anchor="middle">0.1</text>
<text x="235.0" y="491.8" text-anchor="middle">1</text>
<text x="430.2" y="491.7" text-anchor="middle">10</text>
</g>
<g style='font-family:"Liberation Sans",sans-serif;font-size:12.6px' fill="#7a4a1a">
<text x="494.4" y="14.90">21</text>
<text x="494.4" y="61.70">22</text>
<text x="494.4" y="108.50">23</text>
<text x="494.4" y="155.30">24</text>
<text x="494.4" y="202.10">25</text>
<text x="494.4" y="248.90">26</text>
<text x="494.4" y="295.70">27</text>
<text x="494.4" y="342.50">28</text>
<text x="494.4" y="389.30">29</text>
<text x="494.4" y="436.10">30</text>
</g>
<text x="188" y="505.4" style='font-family:"Liberation Mono",monospace;font-size:14.6px' fill="#111" stroke="#111" stroke-width="0.35" textLength="146.5" lengthAdjust="spacingAndGlyphs">Wavelength &#955; (<tspan font-style="italic">&#956;</tspan>m)</text>
<text transform="translate(12.4,319) rotate(-90)" style='font-family:"Liberation Serif",serif;font-size:12.6px' fill="#111" textLength="134" lengthAdjust="spacingAndGlyphs"><tspan font-style="italic">&#957;</tspan>.I<tspan font-size="9.5" dy="2.5" font-style="italic">&#957;</tspan><tspan dy="-2.5">&#160;&#160;(nW&#160;&#160;m</tspan><tspan font-size="9.5" dy="-5.5">&#8722;2</tspan><tspan dy="5.5">&#160;&#160;sr</tspan><tspan font-size="9.5" dy="-5.5">&#8722;1</tspan><tspan dy="5.5">)</tspan></text>
<text transform="translate(523.8,412.2) rotate(-90)" style='font-family:"Liberation Sans",sans-serif;font-size:11.4px' fill="#7a4a1a" stroke="#7a4a1a" stroke-width="0.15" textLength="33.6" lengthAdjust="spacingAndGlyphs">Sky&#8722;SB</text>
<text transform="translate(523.8,370.2) rotate(-90)" style='font-family:"Liberation Sans",sans-serif;font-size:11.4px' fill="#7a4a1a" stroke="#7a4a1a" stroke-width="0.15" textLength="111.9" lengthAdjust="spacingAndGlyphs">(AB&#8722;mag/arcsec<tspan font-size="7.5" dy="-4">2</tspan><tspan dy="4">)</tspan></text>
<text transform="translate(523.8,245.3) rotate(-90)" style='font-family:"Liberation Sans",sans-serif;font-size:11.4px' fill="#7a4a1a" stroke="#7a4a1a" stroke-width="0.15" textLength="125" lengthAdjust="spacingAndGlyphs">[&#8722;2.5 log(&#955;/2.00 <tspan font-style="italic">&#956;</tspan>m)]</text>
<path d="M46.8,22.3 H60.6" stroke="#178c17" stroke-width="1.7"/>
<text x="64.70" y="26.20" style='font-family:"Liberation Mono",monospace;font-size:8.8px;font-weight:bold' fill="#178c17" textLength="87.5" lengthAdjust="spacingAndGlyphs">Zodi+SL+DGL model</text>
<path d="M52.70,37.30 L60.90,37.30 L56.80,43.90 Z" fill="none" stroke="#178c17" stroke-width="1.6" stroke-linejoin="miter"/>
<text x="64.70" y="43.60" style='font-family:"Liberation Mono",monospace;font-size:8.8px;font-weight:bold' fill="#178c17" textLength="80.3" lengthAdjust="spacingAndGlyphs">Observed PEARLS</text>
<text x="64.70" y="57.20" style='font-family:"Liberation Mono",monospace;font-size:8.8px;font-weight:bold' fill="#178c17" textLength="74.1" lengthAdjust="spacingAndGlyphs">NIRCam sky-SB</text>
<path d="M46.8,214.9 H57" stroke="#111" stroke-width="1" stroke-dasharray="1,2"/>
<text x="59.40" y="218.10" style='font-family:"Liberation Mono",monospace;font-size:8.4px;font-weight:bold' fill="#111" textLength="37.6" lengthAdjust="spacingAndGlyphs">10% Zodi</text>
<text x="97" y="220.1" style='font-family:"Liberation Mono",monospace;font-size:5.2px;font-weight:bold' fill="#111">K</text>
<path d="M46.8,264.4 H57" stroke="#111" stroke-width="1" stroke-dasharray="1,2"/>
<text x="59.40" y="266.90" style='font-family:"Liberation Mono",monospace;font-size:8.4px;font-weight:bold' fill="#111" textLength="37.6" lengthAdjust="spacingAndGlyphs">10% Zodi</text>
<text x="97" y="268.1" style='font-family:"Liberation Mono",monospace;font-size:5.2px;font-weight:bold' fill="#111">L</text>
<text x="399.50" y="21.80" style='font-family:"Liberation Sans",sans-serif;font-size:12.2px' fill="#111" textLength="66.5" lengthAdjust="spacingAndGlyphs">Direct Light:</text>
<path d="M395.50,31.80 L399.70,31.80 L397.60,35.40 Z" fill="none" stroke="#888" stroke-width="0.9" stroke-linejoin="miter"/>
<text x="405.20" y="36.20" style='font-family:"Liberation Mono",monospace;font-size:8.4px;font-weight:bold' fill="#777" textLength="73.2" lengthAdjust="spacingAndGlyphs">Total Estimates</text>
<rect x="391" y="41.4" width="19.5" height="11.4" fill="url(#yhatch2)"/>
<path d="M391,47.3 H410.5" stroke="#d4aa20" stroke-width="1.3"/>
<text x="416.60" y="50.20" style='font-family:"Liberation Mono",monospace;font-size:8.4px;font-weight:bold' fill="#d4aa00" textLength="61.2" lengthAdjust="spacingAndGlyphs">MAGIC Blazars</text>
<text x="400.30" y="75.10" style='font-family:"Liberation Sans",sans-serif;font-size:12.5px' fill="#111" textLength="71.7" lengthAdjust="spacingAndGlyphs">Diffuse Light:</text>
<path d="M388.80,84.50 L394.20,84.50 L391.50,89.10 Z" fill="none" stroke="#9900ff" stroke-width="1.1" stroke-linejoin="miter"/>
<text x="400.90" y="89.00" style='font-family:"Liberation Mono",monospace;font-size:8.3px;font-weight:bold' fill="#9900ff" textLength="79.5" lengthAdjust="spacingAndGlyphs">Matsuura<tspan font-size="5.1" dy="-3.2">+</tspan><tspan dy="3.2">17 and</tspan></text>
<text x="400.90" y="100.60" style='font-family:"Liberation Mono",monospace;font-size:8.3px;font-weight:bold' fill="#9900ff" textLength="68.6" lengthAdjust="spacingAndGlyphs">Sano<tspan font-size="5.1" dy="-3.2">+</tspan><tspan dy="3.2">20 CIBER</tspan></text>
<circle cx="391.2" cy="110.0" r="2.6" fill="none" stroke="#4a90e2" stroke-width="1"/>
<text x="400.90" y="113.20" style='font-family:"Liberation Mono",monospace;font-size:8.3px;font-weight:bold' fill="#4a90e2" textLength="59.6" lengthAdjust="spacingAndGlyphs">Lauer<tspan font-size="5.1" dy="-3.2">+</tspan><tspan dy="3.2">21, 22</tspan></text>
<path d="M391.2,119.2 V155 M388.9,119.2 h4.6 M381.4,133.3 H401.0 M381.4,131.3 v4 M401.0,131.3 v4" stroke="#2020e8" stroke-width="1"/>
<path d="M388.2,133.3 L394.2,133.3 L391.2,138.3 Z" fill="#7a7af0" fill-opacity="0.5" stroke="#2020e8" stroke-width="1.1"/>
<path d="M387.7,154.4 L394.7,154.4 L391.2,159.6 Z" fill="#2020e8"/>
<text x="405.50" y="133.60" style='font-family:"Liberation Mono",monospace;font-size:8.6px;font-weight:bold' fill="#0a0aee" textLength="72.2" lengthAdjust="spacingAndGlyphs">SKYSURF limits</text>
<text x="405.5" y="145.8" style='font-family:"Liberation Mono",monospace;font-size:8.6px;font-weight:bold' fill="#0a0aee" textLength="64.5" lengthAdjust="spacingAndGlyphs">1.25-1.60 <tspan font-style="italic">&#956;</tspan>m</text>
<text x="405.50" y="157.30" style='font-family:"Liberation Mono",monospace;font-size:8.6px;font-weight:bold' fill="#0a0aee" textLength="66.5" lengthAdjust="spacingAndGlyphs">(Carleton<tspan font-size="5.3" dy="-3.3">+</tspan><tspan dy="3.3"> 22)</tspan></text>
<path d="M387.60,172.30 L394.00,172.30 L390.80,177.90 Z" fill="none" stroke="#6e3c0c" stroke-width="1.3" stroke-linejoin="miter"/>
<path d="M397.00,172.27 L399.92,173.44 L401.88,173.44 L404.80,172.27 L403.04,175.00 L401.68,176.17 L400.90,179.10 L400.12,176.17 L398.75,175.00 Z" fill="#6e3c0c" stroke="#6e3c0c" stroke-width="0.6" stroke-linejoin="round"/><circle cx="400.90" cy="174.81" r="0.55" fill="#fff"/>
<path d="M408.50,172.82 L411.90,175.20 L415.30,172.82 M411.90,175.20 L411.90,178.26" fill="none" stroke="#6e3c0c" stroke-width="1.2"/>
<text x="420.2" y="178.2" style='font-family:"Liberation Mono",monospace;font-size:10.8px;font-weight:bold' fill="#6e3c0c" textLength="61.3" lengthAdjust="spacingAndGlyphs">0.9-4.5 <tspan font-style="italic">&#956;</tspan>m</text>
<text x="414.50" y="189.70" style='font-family:"Liberation Mono",monospace;font-size:9.2px;font-weight:bold' fill="#6e3c0c" textLength="64.9" lengthAdjust="spacingAndGlyphs">PEARLS limits</text>
<text x="414.50" y="202.20" style='font-family:"Liberation Mono",monospace;font-size:10.5px;font-weight:bold' fill="#6e3c0c" textLength="58.6" lengthAdjust="spacingAndGlyphs">(this work)</text>
<text x="89.20" y="420.90" style='font-family:"Liberation Sans",sans-serif;font-size:12.2px' fill="#111" textLength="140.2" lengthAdjust="spacingAndGlyphs">Discrete Light (IGL-Obs):</text>
<path d="M85.40,431.50 h8.40 M85.40,443.50 h8.40 M89.60,431.50 V443.50" stroke="#6e3c0c" stroke-width="1.4"/><path d="M86.40,440.30 L92.80,440.30 L89.60,434.70 Z" fill="#6e3c0c" stroke="#6e3c0c" stroke-width="0.8"/>
<text x="103.80" y="440.30" style='font-family:"Liberation Mono",monospace;font-size:10.6px;font-weight:bold' fill="#6e3c0c" textLength="168.7" lengthAdjust="spacingAndGlyphs">PEARLS NIRCam IGL (this work)</text>
<circle cx="89.8" cy="455" r="3.9" fill="#ff0000"/>
<circle cx="109" cy="455" r="3.9" fill="#cc6600"/>
<text x="120.50" y="458.30" style='font-family:"Liberation Mono",monospace;font-size:10.4px;font-weight:bold' fill="#ff0000" textLength="76.0" lengthAdjust="spacingAndGlyphs">IGL (Driver<tspan font-size="6.4" dy="-4.0">+</tspan><tspan dy="4.0">16,</tspan></text>
<text x="204.90" y="458.30" style='font-family:"Liberation Mono",monospace;font-size:10.4px;font-weight:bold' fill="#cc6600" textLength="66.4" lengthAdjust="spacingAndGlyphs">Koushan<tspan font-size="6.4" dy="-4.0">+</tspan><tspan dy="4.0">21)</tspan></text>
<path d="M293.7,408.3 H323.2" stroke="#000" stroke-width="1.5"/>
<text x="332.80" y="410.70" style='font-family:"Liberation Mono",monospace;font-size:9.4px;font-weight:bold' fill="#111" textLength="141.0" lengthAdjust="spacingAndGlyphs">Total iEBL+eEBL (IGL-Pred)</text>
<path d="M293.7,424.4 H323.2" stroke="#ff4444" stroke-width="1.2" stroke-dasharray="7.6,5.2"/>
<text x="332.80" y="427.30" style='font-family:"Liberation Mono",monospace;font-size:9.4px;font-weight:bold' fill="#ff0000" textLength="111.7" lengthAdjust="spacingAndGlyphs">0.95*Spheroid sky-SB</text>
<path d="M293.7,441.1 H323.2" stroke="#40a040" stroke-width="1.2" stroke-dasharray="7.6,5.2"/>
<text x="332.80" y="443.90" style='font-family:"Liberation Mono",monospace;font-size:9.4px;font-weight:bold' fill="#1a9a1a" textLength="131.8" lengthAdjust="spacingAndGlyphs">1.3*Disks (Andrews<tspan font-size="5.8" dy="-3.6">+</tspan><tspan dy="3.6"> 2018)</tspan></text>
<path d="M293.7,457.3 H323.2" stroke="#a050ff" stroke-width="1.2" stroke-dasharray="7.6,5.2"/>
<text x="332.80" y="460.30" style='font-family:"Liberation Mono",monospace;font-size:9.4px;font-weight:bold' fill="#9900ff" textLength="149.6" lengthAdjust="spacingAndGlyphs">0.75*Unobscured AGN sky-SB</text>
</svg>
</body></html>
